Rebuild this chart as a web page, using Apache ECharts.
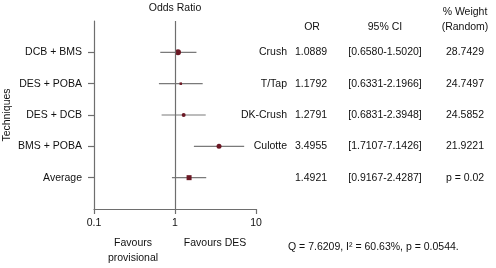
<!DOCTYPE html>
<html>
<head>
<meta charset="utf-8">
<script src="https://cdn.jsdelivr.net/npm/echarts@6/dist/echarts.min.js"></script>
<style>
  html, body { margin: 0; padding: 0; background: #fff; }
  #chart { width: 496px; height: 268px; }
</style>
</head>
<body>
<div id="chart"></div>
<script>
// rows, top to bottom
var techniques = ['DCB + BMS', 'DES + POBA', 'DES + DCB', 'BMS + POBA', 'Average'];
var oddsRatio = [1.0889, 1.1792, 1.2791, 3.4955, 1.4921];
// interval ends as drawn in the plot
var ciLow = [0.658, 0.6331, 0.6831, 1.7107, 0.9167];
var ciHigh = [1.84, 2.1966, 2.3948, 7.1426, 2.4287];
var xTicks = [0.1, 1, 10];

// table on the right
var subgroups = ['Crush', 'T/Tap', 'DK-Crush', 'Culotte', ''];
var orText = ['1.0889', '1.1792', '1.2791', '3.4955', '1.4921'];
var ciText = ['[0.6580-1.5020]', '[0.6331-2.1966]', '[0.6831-2.3948]', '[1.7107-7.1426]', '[0.9167-2.4287]'];
var weightText = ['28.7429', '24.7497', '24.5852', '21.9221', 'p = 0.02'];
var footer = 'Q = 7.6209, I\u00b2 = 60.63%, p = 0.0544.';

var FONT = 'Liberation Sans';
var FS = 10.5;
var TXT = '#111';
var AXIS = '#6e6e6e';
var DOT = '#6b1824';

var markerShape = ['circle', 'rect', 'circle', 'circle', 'rect'];
var markerSize = [6, 2.5, 4, 5, 5];

var chart = echarts.init(document.getElementById('chart'));

var points = oddsRatio.map(function (v, i) {
  return {
    value: [v, i + 1],
    symbol: markerShape[i],
    symbolSize: markerSize[i]
  };
});
var intervals = ciLow.map(function (lo, i) { return [lo, ciHigh[i], i + 1]; });

var option = {
  animation: false,
  textStyle: { fontFamily: FONT },
  grid: { left: 94, right: 240, top: 21, bottom: 59 },
  xAxis: {
    type: 'log',
    logBase: 10,
    min: 0.1,
    max: 10,
    splitLine: { show: false },
    axisLine: { onZero: false, lineStyle: { color: AXIS, width: 1.2 } },
    axisTick: { length: 5, lineStyle: { color: AXIS, width: 1.2 } },
    minorTick: { show: false },
    axisLabel: {
      color: TXT, fontSize: FS, fontFamily: FONT, margin: 9,
      formatter: function (v) { return String(+v.toPrecision(3)); }
    }
  },
  yAxis: {
    type: 'value',
    inverse: true,
    min: 0,
    max: 6,
    interval: 1,
    name: 'Techniques',
    nameLocation: 'middle',
    nameGap: 81,
    nameTextStyle: { color: TXT, fontSize: FS, fontFamily: FONT },
    splitLine: { show: false },
    axisLine: { show: true, onZero: false, lineStyle: { color: AXIS, width: 1.2 } },
    axisTick: { length: 6, lineStyle: { color: AXIS, width: 1.2 }, customValues: [1, 2, 3, 4, 5] },
    axisLabel: {
      color: TXT, fontSize: FS, fontFamily: FONT, margin: 12,
      customValues: [1, 2, 3, 4, 5],
      formatter: function (v) { return techniques[v - 1] || ''; }
    }
  },
  series: [
    {
      type: 'custom',
      data: intervals,
      encode: { x: [0, 1], y: 2 },
      renderItem: function (params, api) {
        var a = api.coord([api.value(0), api.value(2)]);
        var b = api.coord([api.value(1), api.value(2)]);
        return {
          type: 'line',
          shape: { x1: a[0], y1: a[1], x2: b[0], y2: b[1] },
          style: { stroke: '#7a7a7a', lineWidth: 1.2 }
        };
      },
      z: 2
    },
    {
      type: 'scatter',
      data: points,
      itemStyle: { color: DOT, opacity: 1 },
      z: 3,
      markLine: {
        silent: true,
        symbol: 'none',
        label: { show: false },
        lineStyle: { color: AXIS, width: 1.2, type: 'solid' },
        data: [{ xAxis: 1 }]
      }
    }
  ]
};
chart.setOption(option);

function txt(x, y, s, align) {
  return {
    type: 'text', x: x, y: y,
    style: {
      text: s, fill: TXT, font: FS + 'px "' + FONT + '"',
      align: align || 'left', verticalAlign: 'middle'
    }
  };
}

var g = [];
g.push(txt(175, 8, 'Odds Ratio', 'center'));
g.push(txt(312, 27, 'OR', 'center'));
g.push(txt(385, 27, '95% CI', 'center'));
g.push(txt(465, 12, '% Weight', 'center'));
g.push(txt(465, 27, '(Random)', 'center'));
techniques.forEach(function (t, i) {
  var y = chart.convertToPixel({ yAxisIndex: 0 }, i + 1);
  g.push(txt(287, y, subgroups[i], 'right'));
  g.push(txt(295, y, orText[i], 'left'));
  g.push(txt(385, y, ciText[i], 'center'));
  g.push(txt(465, y, weightText[i], 'center'));
});
g.push(txt(133, 243, 'Favours', 'center'));
g.push(txt(133, 258, 'provisional', 'center'));
g.push(txt(215, 243, 'Favours DES', 'center'));
g.push(txt(288, 247, footer, 'left'));

chart.setOption({ graphic: g });
</script>
</body>
</html>
